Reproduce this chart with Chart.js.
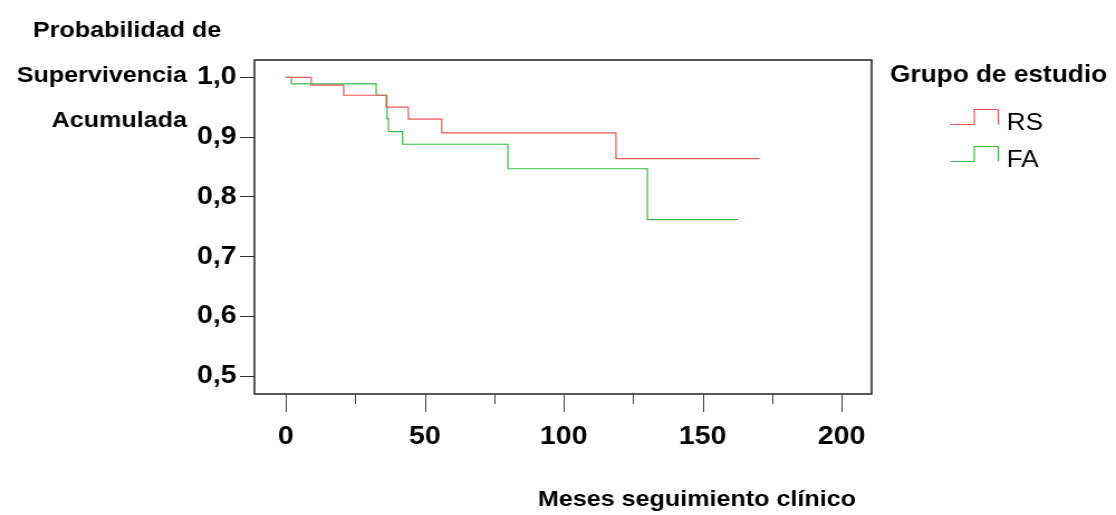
<!DOCTYPE html>
<html>
<head>
<meta charset="utf-8">
<script src="https://cdn.jsdelivr.net/npm/chart.js@4.4.1/dist/chart.umd.min.js"></script>
<style>
    html, body { margin: 0; padding: 0; background: #fff; overflow: hidden; }
    /* the reference looks drawn narrower and stretched sideways */
    #wrap { width: 1000px; height: 515px; transform: scaleX(1.116); transform-origin: 0 0; }
</style>
</head>
<body>
<div id="wrap"><canvas id="km" width="1000" height="515"></canvas></div>
<script>
// Kaplan-Meier steps: month of each drop and survival after it
const rsMonths = [0, 9.1, 20.8, 36.1, 44.1, 56.1, 118.8, 170.5];
const rsSurvival = [1.0, 0.987, 0.970, 0.950, 0.930, 0.907, 0.864, 0.864];
const faMonths = [0, 2.0, 32.5, 36.4, 36.9, 42.0, 79.9, 130.1, 162.7];
const faSurvival = [1.0, 0.989, 0.970, 0.931, 0.909, 0.888, 0.847, 0.762, 0.762];

const xTicks = [0, 50, 100, 150, 200];
const xMinorTicks = [25, 75, 125, 175];
const yTicks = [0.5, 0.6, 0.7, 0.8, 0.9, 1.0];

const FONT = '"Liberation Sans", Arial, sans-serif';

function toPoints(months, values) {
    return months.map((m, i) => ({ x: m, y: values[i] }));
}

function line(ctx, x1, y1, x2, y2) {
    ctx.beginPath();
    ctx.moveTo(x1, y1);
    ctx.lineTo(x2, y2);
    ctx.stroke();
}

// box, x ticks, titles and the step legend
const framePlugin = {
    id: 'frame',
    afterDraw(chart) {
        const { ctx, chartArea: a, scales: { x } } = chart;
        ctx.save();

        ctx.strokeStyle = '#222';
        ctx.lineWidth = 1.5;
        ctx.strokeRect(a.left, a.top, a.right - a.left, a.bottom - a.top);

        ctx.strokeStyle = '#444';
        ctx.lineWidth = 1;
        xTicks.forEach(v => {
            const px = Math.round(x.getPixelForValue(v)) + 0.5;
            line(ctx, px, a.bottom, px, a.bottom + 18);
        });
        xMinorTicks.forEach(v => {
            const px = Math.round(x.getPixelForValue(v)) + 0.5;
            line(ctx, px, a.bottom, px, a.bottom + 10);
        });

        ctx.fillStyle = '#000';
        ctx.font = 'bold 22.5px ' + FONT;
        ctx.textBaseline = 'alphabetic';
        ctx.textAlign = 'left';
        ctx.fillText('Probabilidad de', 29.5, 37);
        ctx.textAlign = 'right';
        ctx.fillText('Supervivencia', 167.5, 82);
        ctx.fillText('Acumulada', 167.5, 127);
        ctx.textAlign = 'center';
        ctx.fillText('Meses seguimiento clínico', 624.5, 506);

        ctx.textAlign = 'left';
        ctx.font = 'bold 23.5px ' + FONT;
        ctx.fillText('Grupo de estudio', 797.5, 82);

        // legend entries with a little step icon
        const rows = [124, 161];
        ctx.font = '23.5px ' + FONT;
        chart.data.datasets.forEach((ds, i) => {
            const low = rows[i] + 0.5;
            const high = low - 15;
            ctx.strokeStyle = ds.borderColor;
            ctx.lineWidth = 1.2;
            ctx.beginPath();
            ctx.moveTo(851.5, low);
            ctx.lineTo(873, low);
            ctx.lineTo(873, high);
            ctx.lineTo(894.5, high);
            ctx.lineTo(894.5, low);
            ctx.stroke();
            ctx.fillText(ds.label, 902, rows[i] + 6);
        });

        ctx.restore();
    }
};

new Chart(document.getElementById('km'), {
    type: 'line',
    data: {
        datasets: [
            {
                label: 'RS',
                data: toPoints(rsMonths, rsSurvival),
                borderColor: '#ef5555',
                borderWidth: 1.2,
                pointRadius: 0,
                stepped: 'before',
                fill: false
            },
            {
                label: 'FA',
                data: toPoints(faMonths, faSurvival),
                borderColor: '#38bd48',
                borderWidth: 1.2,
                pointRadius: 0,
                stepped: 'before',
                fill: false
            }
        ]
    },
    options: {
        responsive: false,
        animation: false,
        devicePixelRatio: 1,
        layout: { padding: { left: 0, top: 60, right: 219, bottom: 0 } },
        plugins: {
            legend: { display: false },
            tooltip: { enabled: false }
        },
        scales: {
            x: {
                type: 'linear',
                min: -11.3,
                max: 210.8,
                afterBuildTicks: s => { s.ticks = xTicks.map(v => ({ value: v })); },
                afterFit: s => { s.height = 121; },
                grid: { drawOnChartArea: false, drawTicks: false },
                border: { display: false },
                ticks: {
                    padding: 28,
                    color: '#000',
                    autoSkip: false,
                    maxRotation: 0,
                    font: { family: FONT, size: 25.5, weight: 'bold' }
                }
            },
            y: {
                type: 'linear',
                min: 0.470,
                max: 1.029,
                afterBuildTicks: s => { s.ticks = yTicks.map(v => ({ value: v })); },
                afterFit: s => { s.width = 228; },
                grid: { drawOnChartArea: false, drawTicks: true, tickLength: 13, tickColor: '#333' },
                border: { display: false },
                ticks: {
                    padding: 3,
                    color: '#000',
                    font: { family: FONT, size: 25.5, weight: 'bold' },
                    callback: v => v.toFixed(1).replace('.', ',')
                }
            }
        }
    },
    plugins: [framePlugin]
});
</script>
</body>
</html>
